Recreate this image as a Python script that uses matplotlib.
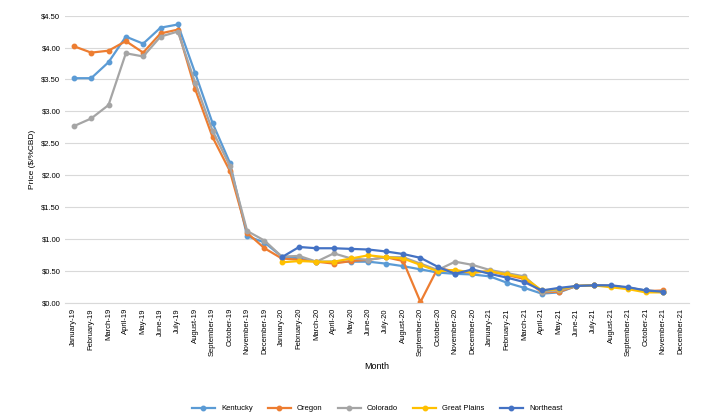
import matplotlib.pyplot as plt
from matplotlib.ticker import FuncFormatter

months = ['January-19', 'February-19', 'March-19', 'April-19', 'May-19', 'June-19', 'July-19',
          'August-19', 'September-19', 'October-19', 'November-19', 'December-19',
          'January-20', 'February-20', 'March-20', 'April-20', 'May-20', 'June-20', 'July-20',
          'August-20', 'September-20', 'October-20', 'November-20', 'December-20',
          'January-21', 'February-21', 'March-21', 'April-21', 'May-21', 'June-21', 'July-21',
          'August-21', 'September-21', 'October-21', 'November-21', 'December-21']

kentucky = [3.52, 3.52, 3.77, 4.17, 4.06, 4.31, 4.36, 3.60, 2.82, 2.20, 1.05, 0.95,
            0.73, 0.70, 0.65, 0.65, 0.65, 0.65, 0.62, 0.58, 0.53, 0.48, 0.46, 0.45,
            0.42, 0.32, 0.24, 0.15, 0.17, 0.27, 0.28, 0.27, 0.24, 0.20, 0.18]
oregon = [4.02, 3.92, 3.95, 4.10, 3.92, 4.22, 4.28, 3.35, 2.60, 2.07, 1.10, 0.86,
          0.70, 0.68, 0.65, 0.62, 0.66, 0.68, 0.72, 0.66, 0.02, 0.55, 0.50, 0.48,
          0.50, 0.44, 0.38, 0.17, 0.18, 0.27, 0.28, 0.27, 0.24, 0.19, 0.20]
colorado = [2.77, 2.89, 3.10, 3.91, 3.86, 4.17, 4.25, 3.45, 2.70, 2.15, 1.13, 0.98,
            0.73, 0.74, 0.65, 0.78, 0.70, 0.68, 0.72, 0.72, 0.62, 0.52, 0.65, 0.60,
            0.52, 0.47, 0.42, 0.18, 0.20, 0.27, 0.28, 0.27, 0.24, 0.20, 0.17]
great_plains = [0.64, 0.66, 0.65, 0.65, 0.70, 0.75, 0.72, 0.70, 0.60, 0.50, 0.52, 0.48,
                0.50, 0.45, 0.40, 0.20, 0.22, 0.27, 0.28, 0.25, 0.22, 0.17, 0.17]
northeast = [0.72, 0.88, 0.86, 0.86, 0.85, 0.84, 0.81, 0.77, 0.71, 0.57, 0.46, 0.53,
             0.46, 0.40, 0.33, 0.20, 0.24, 0.27, 0.28, 0.28, 0.25, 0.20, 0.18]

plt.rcParams['font.family'] = ['Liberation Sans', 'DejaVu Sans']
fig = plt.figure(figsize=(7.01, 4.20), dpi=100)
ax = fig.add_axes([0.093, 0.278, 0.89, 0.685])

series = [('Kentucky', kentucky, 0, '#5b9bd5'),
          ('Oregon', oregon, 0, '#ed7d31'),
          ('Colorado', colorado, 0, '#a5a5a5'),
          ('Great Plains', great_plains, 12, '#ffc000'),
          ('Northeast', northeast, 12, '#4472c4')]
for name, vals, start, c in series:
    x = list(range(start, start + len(vals)))
    ax.plot(x, vals, color=c, lw=1.6, marker='o', ms=3.2, label=name)

ax.set_xlim(-0.5, 35.5)
ax.set_ylim(0, 4.5)
ax.set_yticks([i * 0.5 for i in range(10)])
ax.yaxis.set_major_formatter(FuncFormatter(lambda v, p: f'${v:.2f}'))
ax.set_xticks(range(36))
ax.set_xticklabels(months, rotation=90, fontsize=5.5)
ax.tick_params(axis='y', labelsize=5.5, length=0)
ax.tick_params(axis='x', length=0)
ax.grid(axis='y', color='#d9d9d9', lw=0.8)
for s in ['top', 'right', 'left']:
    ax.spines[s].set_visible(False)
ax.spines['bottom'].set_color('#d9d9d9')
ax.set_ylabel('Price ($/%CBD)', fontsize=6)
ax.set_xlabel('Month', fontsize=6.5)
ax.legend(loc='upper center', bbox_to_anchor=(0.5, -0.33), ncol=5, frameon=False,
          fontsize=5.5, handlelength=3)
fig.savefig('out.png', dpi=100)
